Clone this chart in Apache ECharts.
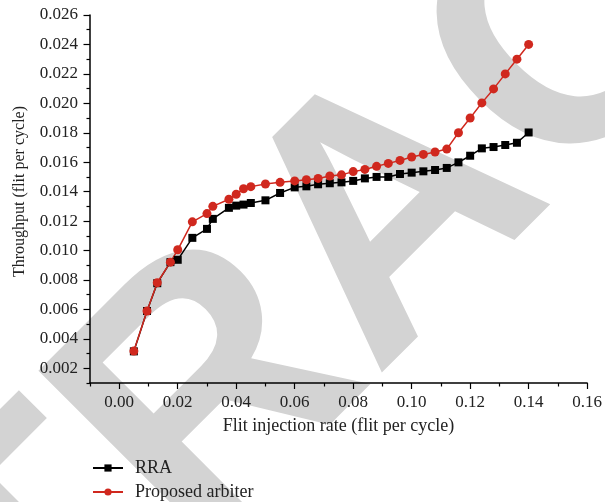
<!DOCTYPE html>
<html>
<head>
<meta charset="utf-8">
<script src="https://cdn.jsdelivr.net/npm/echarts@6/dist/echarts.min.js"></script>
<style>html,body{margin:0;padding:0;background:#fff}#c{width:605px;height:502px}</style>
</head>
<body>
<div id="c"></div>
<script>
// injection rates (flit per cycle)
const injectionRate = [0.005, 0.0095, 0.013, 0.0175, 0.02, 0.025, 0.03, 0.032, 0.0375, 0.04, 0.0425, 0.045, 0.05, 0.055, 0.06, 0.064, 0.068, 0.072, 0.076, 0.08, 0.084, 0.088, 0.092, 0.096, 0.1, 0.104, 0.108, 0.112, 0.116, 0.12, 0.124, 0.128, 0.132, 0.136, 0.14];
const rraThroughput = [0.00315, 0.00589, 0.00778, 0.00921, 0.00937, 0.01086, 0.01147, 0.01215, 0.0129, 0.01305, 0.01312, 0.01323, 0.01341, 0.01391, 0.01429, 0.01436, 0.0145, 0.01457, 0.01463, 0.01473, 0.0149, 0.015, 0.015, 0.0152, 0.01529, 0.01538, 0.01547, 0.01561, 0.01599, 0.01644, 0.01694, 0.01703, 0.01717, 0.01732, 0.01802];
const proposedThroughput = [0.00317, 0.00589, 0.00781, 0.00921, 0.01005, 0.01195, 0.01251, 0.0130, 0.01348, 0.01382, 0.0142, 0.01434, 0.01452, 0.01463, 0.01473, 0.01481, 0.0149, 0.01506, 0.01514, 0.01536, 0.01551, 0.01572, 0.01592, 0.01612, 0.01635, 0.01653, 0.01669, 0.01689, 0.018, 0.019, 0.02003, 0.02098, 0.022, 0.023, 0.024];
const xMajorTicks = [0, 0.02, 0.04, 0.06, 0.08, 0.10, 0.12, 0.14, 0.16];
const xMinorTicks = [-0.01, 0.01, 0.03, 0.05, 0.07, 0.09, 0.11, 0.13, 0.15];
const yMajorTicks = [0.002, 0.004, 0.006, 0.008, 0.010, 0.012, 0.014, 0.016, 0.018, 0.020, 0.022, 0.024, 0.026];
const yMinorTicks = [0.001, 0.003, 0.005, 0.007, 0.009, 0.011, 0.013, 0.015, 0.017, 0.019, 0.021, 0.023, 0.025];
const seriesNames = ['RRA', 'Proposed arbiter'];

const serif = '"Liberation Serif", "DejaVu Serif", serif';
const RED = '#d0281e';
const axisLine = {show: true, onZero: false, lineStyle: {color: '#000', width: 1.5}};
const legendText = {fontFamily: serif, fontSize: 18, color: '#222', padding: [0, 0, 0, 7]};

const chart = echarts.init(document.getElementById('c'), null, {renderer: 'canvas'});
chart.setOption({
  animation: false,
  graphic: [{
    type: 'text', z: -10, silent: true,
    x: 397, y: 219, rotation: Math.PI / 4,
    style: {text: 'RETRACTED', fill: '#d3d3d3', font: 'bold 355px "Liberation Sans", Arial, sans-serif', textAlign: 'center', textVerticalAlign: 'middle'}
  }],
  grid: {left: 90, right: 17, top: 15, bottom: 119, containLabel: false},
  legend: [{
    orient: 'vertical', left: 87, top: 454, itemWidth: 30, itemHeight: 9,
    textStyle: legendText, data: [seriesNames[0]]
  }, {
    orient: 'vertical', left: 87, top: 478, itemWidth: 30, itemHeight: 9,
    textStyle: legendText, data: [seriesNames[1]]
  }],
  xAxis: [{
    type: 'value', min: -0.01, max: 0.16,
    name: 'Flit injection rate (flit per cycle)', nameLocation: 'middle', nameGap: 34,
    nameTextStyle: {fontFamily: serif, fontSize: 18, color: '#222'},
    axisLine: axisLine, splitLine: {show: false},
    axisTick: {show: true, length: 6, lineStyle: {color: '#000', width: 1.2}, customValues: xMajorTicks},
    axisLabel: {customValues: xMajorTicks, formatter: v => v.toFixed(2), fontFamily: serif, fontSize: 17, color: '#222', margin: 11}
  }, {
    type: 'value', min: -0.01, max: 0.16, position: 'bottom', gridIndex: 0,
    axisLine: {show: false, onZero: false}, splitLine: {show: false}, axisLabel: {show: false},
    axisTick: {show: true, length: 3.5, lineStyle: {color: '#000', width: 1.2}, customValues: xMinorTicks}
  }],
  yAxis: [{
    type: 'value', min: 0.001, max: 0.026,
    name: 'Throughput (flit per cycle)', nameLocation: 'middle', nameGap: 62,
    nameTextStyle: {fontFamily: serif, fontSize: 16, color: '#222', padding: [0, 0, 0, 15]},
    axisLine: axisLine, splitLine: {show: false},
    axisTick: {show: true, length: 6.5, lineStyle: {color: '#000', width: 1.2}, customValues: yMajorTicks},
    axisLabel: {customValues: yMajorTicks, formatter: v => v.toFixed(3), fontFamily: serif, fontSize: 17, color: '#222', margin: 12}
  }, {
    type: 'value', min: 0.001, max: 0.026, position: 'left', offset: 0,
    axisLine: {show: false, onZero: false}, splitLine: {show: false}, axisLabel: {show: false},
    axisTick: {show: true, length: 3.5, lineStyle: {color: '#000', width: 1.2}, customValues: yMinorTicks}
  }],
  series: [{
    name: seriesNames[0], type: 'line', xAxisIndex: 0, yAxisIndex: 0,
    data: injectionRate.map((x, i) => [x, rraThroughput[i]]),
    symbol: 'rect', symbolSize: 8, color: '#000',
    lineStyle: {color: '#000', width: 1.5}, itemStyle: {color: '#000'}
  }, {
    name: seriesNames[1], type: 'line', xAxisIndex: 0, yAxisIndex: 0,
    data: injectionRate.map((x, i) => [x, proposedThroughput[i]]),
    symbol: 'circle', symbolSize: 9, color: RED,
    lineStyle: {color: RED, width: 1.5}, itemStyle: {color: RED}
  }]
});
</script>
</body>
</html>
